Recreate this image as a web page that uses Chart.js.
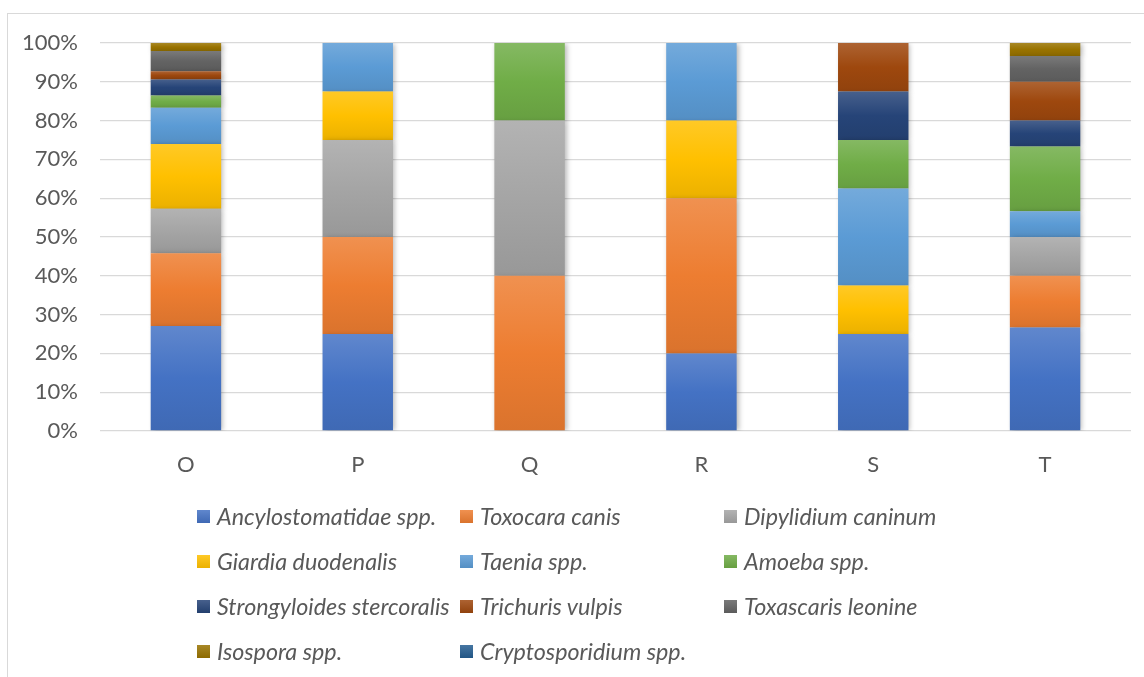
<!DOCTYPE html>
<html>
<head>
<meta charset="utf-8">
<script src="https://cdn.jsdelivr.net/npm/chart.js@4.4.1/dist/chart.umd.min.js"></script>
<style>
  html, body { margin: 0; padding: 0; background: #fff; }
  #wrap { position: relative; width: 1144px; height: 677px; overflow: hidden; }
  #frame { position: absolute; left: 7px; top: 13px; width: 1150px; height: 700px; border: 1px solid #d9d9d9; box-sizing: border-box; }
  #c { position: absolute; left: 0; top: 0; }
  #legend { position: absolute; left: 0; top: 0; width: 1144px; height: 677px; pointer-events: none;
            font-family: Lato, "Open Sans", sans-serif; font-style: italic; font-size: 23.3px; color: #595959; }
  .li { position: absolute; display: flex; align-items: center; white-space: nowrap; }
  .sw { width: 13px; height: 13px; margin-right: 7px; flex: none; }
</style>
</head>
<body>
<div id="wrap">
  <div id="frame"></div>
  <canvas id="c" width="1144" height="677"></canvas>
  <div id="legend"></div>
</div>
<script>
const categories = ["O", "P", "Q", "R", "S", "T"];
const seriesNames = ["Ancylostomatidae spp.", "Toxocara canis", "Dipylidium caninum",
  "Giardia duodenalis", "Taenia spp.", "Amoeba spp.",
  "Strongyloides stercoralis", "Trichuris vulpis", "Toxascaris leonine",
  "Isospora spp.", "Cryptosporidium spp."];
// relative counts per category (normalized to 100% below)
const ancylostomatidae = [26, 2, 0, 1, 2, 8];
const toxocara         = [18, 2, 2, 2, 0, 4];
const dipylidium       = [11, 2, 2, 0, 0, 3];
const giardia          = [16, 1, 0, 1, 1, 0];
const taenia           = [9, 1, 0, 1, 2, 2];
const amoeba           = [3, 0, 1, 0, 1, 5];
const strongyloides    = [4, 0, 0, 0, 1, 2];
const trichuris        = [2, 0, 0, 0, 1, 3];
const toxascaris       = [5, 0, 0, 0, 0, 2];
const isospora         = [2, 0, 0, 0, 0, 1];
const cryptosporidium  = [0, 0, 0, 0, 0, 0];
const yTicks = [0, 10, 20, 30, 40, 50, 60, 70, 80, 90, 100];

const seriesValues = [ancylostomatidae, toxocara, dipylidium, giardia, taenia, amoeba,
  strongyloides, trichuris, toxascaris, isospora, cryptosporidium];
const colors = ["#4472C4", "#ED7D31", "#A5A5A5", "#FFC000", "#5B9BD5", "#70AD47",
  "#264478", "#9E480E", "#636363", "#997300", "#255E91"];

const totals = categories.map((_, i) => seriesValues.reduce((s, a) => s + a[i], 0));
const pct = seriesValues.map(a => a.map((v, i) => v / totals[i] * 100));

function shade(hex, f) {
  const n = parseInt(hex.slice(1), 16);
  let r = (n >> 16) & 255, g = (n >> 8) & 255, b = n & 255;
  if (f >= 0) { r += (255 - r) * f; g += (255 - g) * f; b += (255 - b) * f; }
  else { r *= 1 + f; g *= 1 + f; b *= 1 + f; }
  return `rgb(${Math.round(r)},${Math.round(g)},${Math.round(b)})`;
}

function bg(ctx) {
  const di = ctx.datasetIndex, i = ctx.dataIndex;
  const base = colors[di];
  const chart = ctx.chart;
  const ys = chart.scales && chart.scales.y;
  if (!ys || ctx.type !== 'data') return base;
  let start = 0;
  for (let k = 0; k < di; k++) start += pct[k][i];
  const end = start + pct[di][i];
  const y0 = ys.getPixelForValue(end), y1 = ys.getPixelForValue(start);
  if (!isFinite(y0) || !isFinite(y1) || y0 === y1) return base;
  const g = chart.ctx.createLinearGradient(0, y0, 0, y1);
  g.addColorStop(0, shade(base, 0.15));
  g.addColorStop(0.5, base);
  g.addColorStop(1, shade(base, -0.08));
  return g;
}

const shadowPlugin = {
  id: 'shadow',
  beforeDatasetsDraw(chart) {
    const c = chart.ctx; c.save();
    c.shadowColor = 'rgba(0,0,0,0.28)'; c.shadowBlur = 5; c.shadowOffsetX = 2; c.shadowOffsetY = 1;
  },
  afterDatasetsDraw(chart) { chart.ctx.restore(); }
};

const font = { family: 'Lato, "Open Sans", sans-serif', size: 22 };

new Chart(document.getElementById('c'), {
  type: 'bar',
  data: {
    labels: categories,
    datasets: seriesNames.map((name, k) => ({
      label: name,
      data: pct[k],
      backgroundColor: bg,
      borderWidth: 0,
      categoryPercentage: 1,
      barPercentage: 0.41
    }))
  },
  options: {
    responsive: false,
    animation: false,
    layout: { padding: { left: 0, right: 13, top: 43, bottom: 186 } },
    plugins: { legend: { display: false }, tooltip: { enabled: false } },
    scales: {
      x: {
        stacked: true,
        grid: { display: false, drawTicks: false },
        border: { display: false },
        ticks: { color: '#595959', font: font, padding: 21 },
        afterFit(s) { s.height = 60; }
      },
      y: {
        stacked: true,
        min: 0, max: 100,
        afterBuildTicks(s) { s.ticks = yTicks.map(v => ({ value: v })); },
        grid: { color: '#d9d9d9', lineWidth: 1.3, drawTicks: false },
        border: { display: false },
        ticks: { color: '#595959', font: font, padding: 22, callback: v => v + '%' },
        afterFit(s) { s.width = 100; }
      }
    }
  },
  plugins: [shadowPlugin]
});

// legend in 3 columns
const lg = document.getElementById('legend');
const colX = [197, 460, 724];
const rowY = [516, 561, 606, 651];
seriesNames.forEach((name, k) => {
  const d = document.createElement('div');
  d.className = 'li';
  d.style.left = colX[k % 3] + 'px';
  d.style.top = (rowY[Math.floor(k / 3)] - 15) + 'px';
  d.style.height = '30px';
  const sw = document.createElement('span');
  sw.className = 'sw';
  sw.style.background = `linear-gradient(${shade(colors[k], 0.15)}, ${shade(colors[k], -0.08)})`;
  const t = document.createElement('span');
  t.textContent = name;
  d.appendChild(sw); d.appendChild(t);
  lg.appendChild(d);
});
</script>
</body>
</html>
